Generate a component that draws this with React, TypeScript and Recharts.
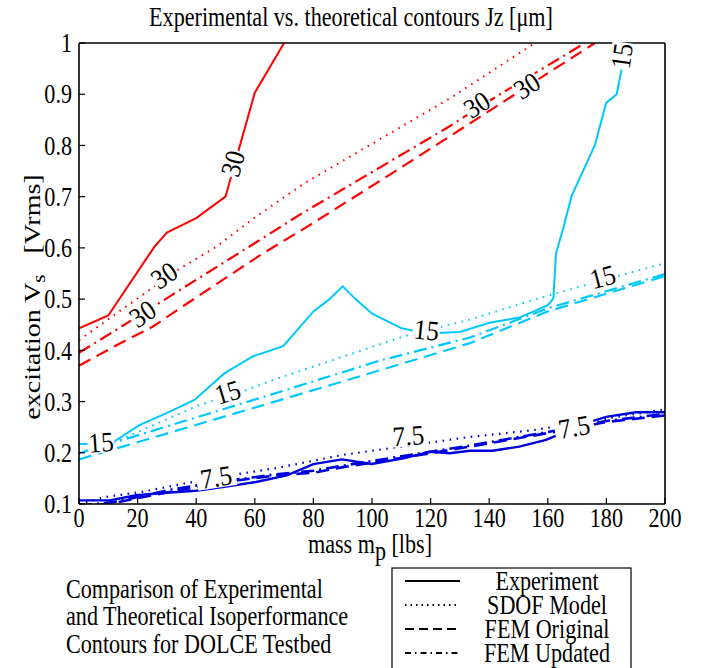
import React from "react";
import { LineChart, Line, XAxis, YAxis, ReferenceDot } from "recharts";

const xTicks = [0, 20, 40, 60, 80, 100, 120, 140, 160, 180, 200];
const yTicks = [0.1, 0.2, 0.3, 0.4, 0.5, 0.6, 0.7, 0.8, 0.9, 1];

// 30 um contour (red)
const expRedX = [0, 10, 25.7, 30, 40, 50, 60, 70];
const expRedY = [0.443, 0.468, 0.602, 0.63, 0.658, 0.7, 0.903, 1.0];
const sdofRedX = [0, 33.7, 46.8, 60.4, 76.9, 126.6, 155.6];
const sdofRedY = [0.42, 0.557, 0.602, 0.661, 0.726, 0.892, 1.0];
const femOrigRedX = [0, 13.8, 25.1, 36.5, 62.7, 77.5, 106.1, 126.6, 161.9, 176.1];
const femOrigRedY = [0.37, 0.413, 0.446, 0.49, 0.589, 0.64, 0.743, 0.818, 0.948, 1.0];
const femUpdRedX = [0, 21.7, 62.7, 75.4, 125.5, 143.7, 172.7];
const femUpdRedY = [0.395, 0.472, 0.619, 0.665, 0.834, 0.9, 1.0];

// 15 um contour (cyan)
const expCyanX = [0, 10.9, 20.6, 29.7, 39.4, 49.6, 59.3, 69.7, 80, 85.1, 90, 94.2, 99.9, 110.1, 115.2, 122.1, 130, 140, 150.3, 160, 161.9, 162.8, 165.3, 168.1, 176.1, 179.9, 183.5, 185.5, 187.5];
const expCyanY = [0.217, 0.218, 0.254, 0.277, 0.303, 0.355, 0.388, 0.408, 0.476, 0.498, 0.525, 0.501, 0.472, 0.443, 0.437, 0.434, 0.436, 0.454, 0.464, 0.488, 0.501, 0.589, 0.639, 0.701, 0.801, 0.883, 0.9, 0.958, 1.0];
const sdofCyanX = [0, 13.8, 41, 57, 66.1, 90.2, 110.7, 133.4, 154.8, 178.7, 200];
const sdofCyanY = [0.2, 0.225, 0.293, 0.322, 0.342, 0.388, 0.427, 0.46, 0.498, 0.537, 0.57];
const femOrigCyanX = [0, 65.2, 102.7, 133.4, 160, 200];
const femOrigCyanY = [0.187, 0.297, 0.361, 0.414, 0.476, 0.545];
const femUpdCyanX = [0, 65.2, 102.7, 133.4, 160, 200];
const femUpdCyanY = [0.199, 0.313, 0.38, 0.425, 0.482, 0.549];

// 7.5 um contour (blue)
const expBlueX = [0, 10.5, 19.5, 29.7, 39.9, 50.2, 60.4, 70.9, 80, 89.7, 99.9, 110.7, 119.8, 126.6, 133.4, 141.2, 150.3, 159.4, 165.1, 170.8, 179.9, 190.1, 200];
const expBlueY = [0.107, 0.107, 0.117, 0.122, 0.126, 0.134, 0.143, 0.156, 0.178, 0.187, 0.178, 0.189, 0.202, 0.199, 0.204, 0.204, 0.212, 0.225, 0.239, 0.254, 0.27, 0.279, 0.279];
const sdofBlueX = [0, 9.2, 21.7, 38.8, 55.9, 67.2, 90.2, 133.4, 154.8, 200];
const sdofBlueY = [0.1, 0.114, 0.124, 0.143, 0.16, 0.17, 0.196, 0.231, 0.244, 0.285];
const femOrigBlueX = [0, 10, 33.1, 50.2, 67.2, 80, 90.2, 119.8, 133.4, 160.5, 179.9, 200];
const femOrigBlueY = [0.095, 0.1, 0.126, 0.143, 0.156, 0.161, 0.172, 0.199, 0.212, 0.239, 0.26, 0.273];
const femUpdBlueX = [0, 12, 33.1, 50.2, 67.2, 80, 90.2, 119.8, 133.4, 160.5, 179.9, 200];
const femUpdBlueY = [0.097, 0.104, 0.13, 0.145, 0.158, 0.165, 0.175, 0.202, 0.214, 0.241, 0.262, 0.276];

// clabel text: value, position in data units, rotation (deg)
const labelText = ["30", "30", "30", "30", "30", "15", "15", "15", "15", "15", "7.5", "7.5", "7.5"];
const labelX = [52.4, 29, 21.7, 135.7, 152.8, 185.2, 7.5, 50.7, 118.6, 178.7, 46.8, 112.4, 169];
const labelY = [0.765, 0.547, 0.472, 0.88, 0.917, 0.975, 0.221, 0.319, 0.44, 0.544, 0.153, 0.234, 0.251];
const labelAngle = [-74, -34, -34, -33, -33, -82, -4, -17, 6, -15, -9, -4, -10];

const legendNames = ["Experiment", "SDOF Model", "FEM Original", "FEM Updated"];

const RED = "#ff0000";
const CYAN = "#00c8ff";
const BLUE = "#0000dc";
const FONT = "'Liberation Serif', 'Times New Roman', serif";
const FS = 27; // text is drawn tall and narrow, like the source figure
const SX = 0.82;

const SOLID = undefined;
const DOTTED = "1.6 5.5";
const DASHED = "13 7";
const DASHDOT = "13 5 2 5";

const pts = (xs: number[], ys: number[]) => xs.map((x, i) => ({ x, y: ys[i] }));

const series = [
  { key: "expRed", data: pts(expRedX, expRedY), color: RED, dash: SOLID, w: 2 },
  { key: "sdofRed", data: pts(sdofRedX, sdofRedY), color: RED, dash: DOTTED, w: 2 },
  { key: "femOrigRed", data: pts(femOrigRedX, femOrigRedY), color: RED, dash: DASHED, w: 2.2 },
  { key: "femUpdRed", data: pts(femUpdRedX, femUpdRedY), color: RED, dash: DASHDOT, w: 2.2 },
  { key: "expCyan", data: pts(expCyanX, expCyanY), color: CYAN, dash: SOLID, w: 2 },
  { key: "sdofCyan", data: pts(sdofCyanX, sdofCyanY), color: CYAN, dash: DOTTED, w: 2 },
  { key: "femOrigCyan", data: pts(femOrigCyanX, femOrigCyanY), color: CYAN, dash: DASHED, w: 2.2 },
  { key: "femUpdCyan", data: pts(femUpdCyanX, femUpdCyanY), color: CYAN, dash: DASHDOT, w: 2.2 },
  { key: "expBlue", data: pts(expBlueX, expBlueY), color: BLUE, dash: SOLID, w: 2.4 },
  { key: "sdofBlue", data: pts(sdofBlueX, sdofBlueY), color: BLUE, dash: DOTTED, w: 2.2 },
  { key: "femOrigBlue", data: pts(femOrigBlueX, femOrigBlueY), color: BLUE, dash: DASHED, w: 2.6 },
  { key: "femUpdBlue", data: pts(femUpdBlueX, femUpdBlueY), color: BLUE, dash: DASHDOT, w: 2.6 },
];

// text squeezed horizontally around its anchor
const SText = ({ x, y, rotate = 0, anchor = "start", size = FS, sx = SX, sy = 1, dy, children }: any) => (
  <text
    transform={`translate(${x},${y}) rotate(${rotate}) scale(${sx},${sy})`}
    textAnchor={anchor}
    dy={dy}
    fontSize={size}
    fontFamily={FONT}
    fill="#000"
  >
    {children}
  </text>
);

const contourLabel = (text: string, angle: number) => (props: any) => {
  const { cx, cy } = props;
  const w = text.length * 12.5 + 2;
  return (
    <g transform={`translate(${cx},${cy}) rotate(${angle})`}>
      <rect x={-w / 2} y={-11} width={w} height={22} fill="#fff" />
      <SText x={0} y={0} anchor="middle" dy="0.35em" size={28} sx={0.9}>
        {text}
      </SText>
    </g>
  );
};

const XTick = (props: any) => (
  <SText x={props.x} y={props.y} anchor="middle" dy="0.71em">
    {props.payload.value}
  </SText>
);

const YTick = (props: any) => (
  <SText x={props.x} y={props.y} anchor="end" dy="0.34em">
    {String(Number(Number(props.payload.value).toFixed(1)))}
  </SText>
);

const legendDash = [SOLID, "1.5 4", "9 5", "6 4 1.5 4"];

export default function App() {
  const axisLine = { stroke: "#000", strokeWidth: 1.6 };
  const tickLine = { stroke: "#000", strokeWidth: 1.2 };
  return (
    <div style={{ position: "absolute", left: 0, top: 0, width: 704, height: 668, background: "#fff" }}>
      <LineChart width={704} height={668} margin={{ top: 42, right: 38, bottom: 134, left: 0 }}>
        <XAxis
          type="number"
          dataKey="x"
          domain={[0, 200]}
          ticks={xTicks}
          interval={0}
          allowDataOverflow
          height={30}
          tickSize={-6}
          tickMargin={10}
          axisLine={axisLine}
          tickLine={tickLine}
          tick={XTick}
        />
        <XAxis
          xAxisId="top"
          orientation="top"
          type="number"
          dataKey="x"
          domain={[0, 200]}
          ticks={xTicks}
          interval={0}
          allowDataOverflow
          height={1}
          tickSize={-6}
          axisLine={axisLine}
          tickLine={tickLine}
          tick={false}
        />
        <YAxis
          type="number"
          domain={[0.1, 1]}
          ticks={yTicks}
          interval={0}
          allowDataOverflow
          width={79}
          tickSize={-6}
          tickMargin={13}
          axisLine={axisLine}
          tickLine={tickLine}
          tick={YTick}
        />
        <YAxis
          yAxisId="right"
          orientation="right"
          type="number"
          domain={[0.1, 1]}
          ticks={yTicks}
          interval={0}
          allowDataOverflow
          width={1}
          tickSize={-6}
          axisLine={axisLine}
          tickLine={tickLine}
          tick={false}
        />
        {series.map((s) => (
          <Line
            key={s.key}
            data={s.data}
            dataKey="y"
            type="linear"
            stroke={s.color}
            strokeWidth={s.w}
            strokeDasharray={s.dash}
            dot={false}
            activeDot={false}
            isAnimationActive={false}
          />
        ))}
        {labelText.map((t, i) => (
          <ReferenceDot
            key={`lbl${i}`}
            x={labelX[i]}
            y={labelY[i]}
            r={1}
            shape={contourLabel(t, labelAngle[i])}
          />
        ))}
      </LineChart>
      <svg
        width={704}
        height={668}
        style={{ position: "absolute", left: 0, top: 0, pointerEvents: "none" }}
      >
        <SText x={351} y={26} anchor="middle">
          Experimental vs. theoretical contours Jz [μm]
        </SText>
        <SText x={40} y={297} rotate={-90} anchor="middle" size={28} sx={1} sy={0.85}>
          excitation V<tspan fontSize={21} dy={6}>s</tspan>
          <tspan dy={-6}>{"\u00a0\u00a0\u00a0[Vrms]"}</tspan>
        </SText>
        <SText x={370} y={553} anchor="middle">
          mass m<tspan dy={7}>p</tspan>
          <tspan dy={-7}>{"\u00a0[lbs]"}</tspan>
        </SText>
        <SText x={66} y={598}>Comparison of Experimental</SText>
        <SText x={66} y={625}>and Theoretical Isoperformance</SText>
        <SText x={66} y={653}>Contours for DOLCE Testbed</SText>
        <rect x={392} y={568} width={239} height={120} fill="none" stroke="#000" strokeWidth={1.2} />
        {legendNames.map((n, i) => {
          const cy = [581, 605, 629, 653][i];
          return (
            <g key={n}>
              <line x1={405} x2={460} y1={cy} y2={cy} stroke="#000" strokeWidth={2} strokeDasharray={legendDash[i]} />
              <SText x={547} y={cy + 9} anchor="middle">
                {n}
              </SText>
            </g>
          );
        })}
      </svg>
    </div>
  );
}
